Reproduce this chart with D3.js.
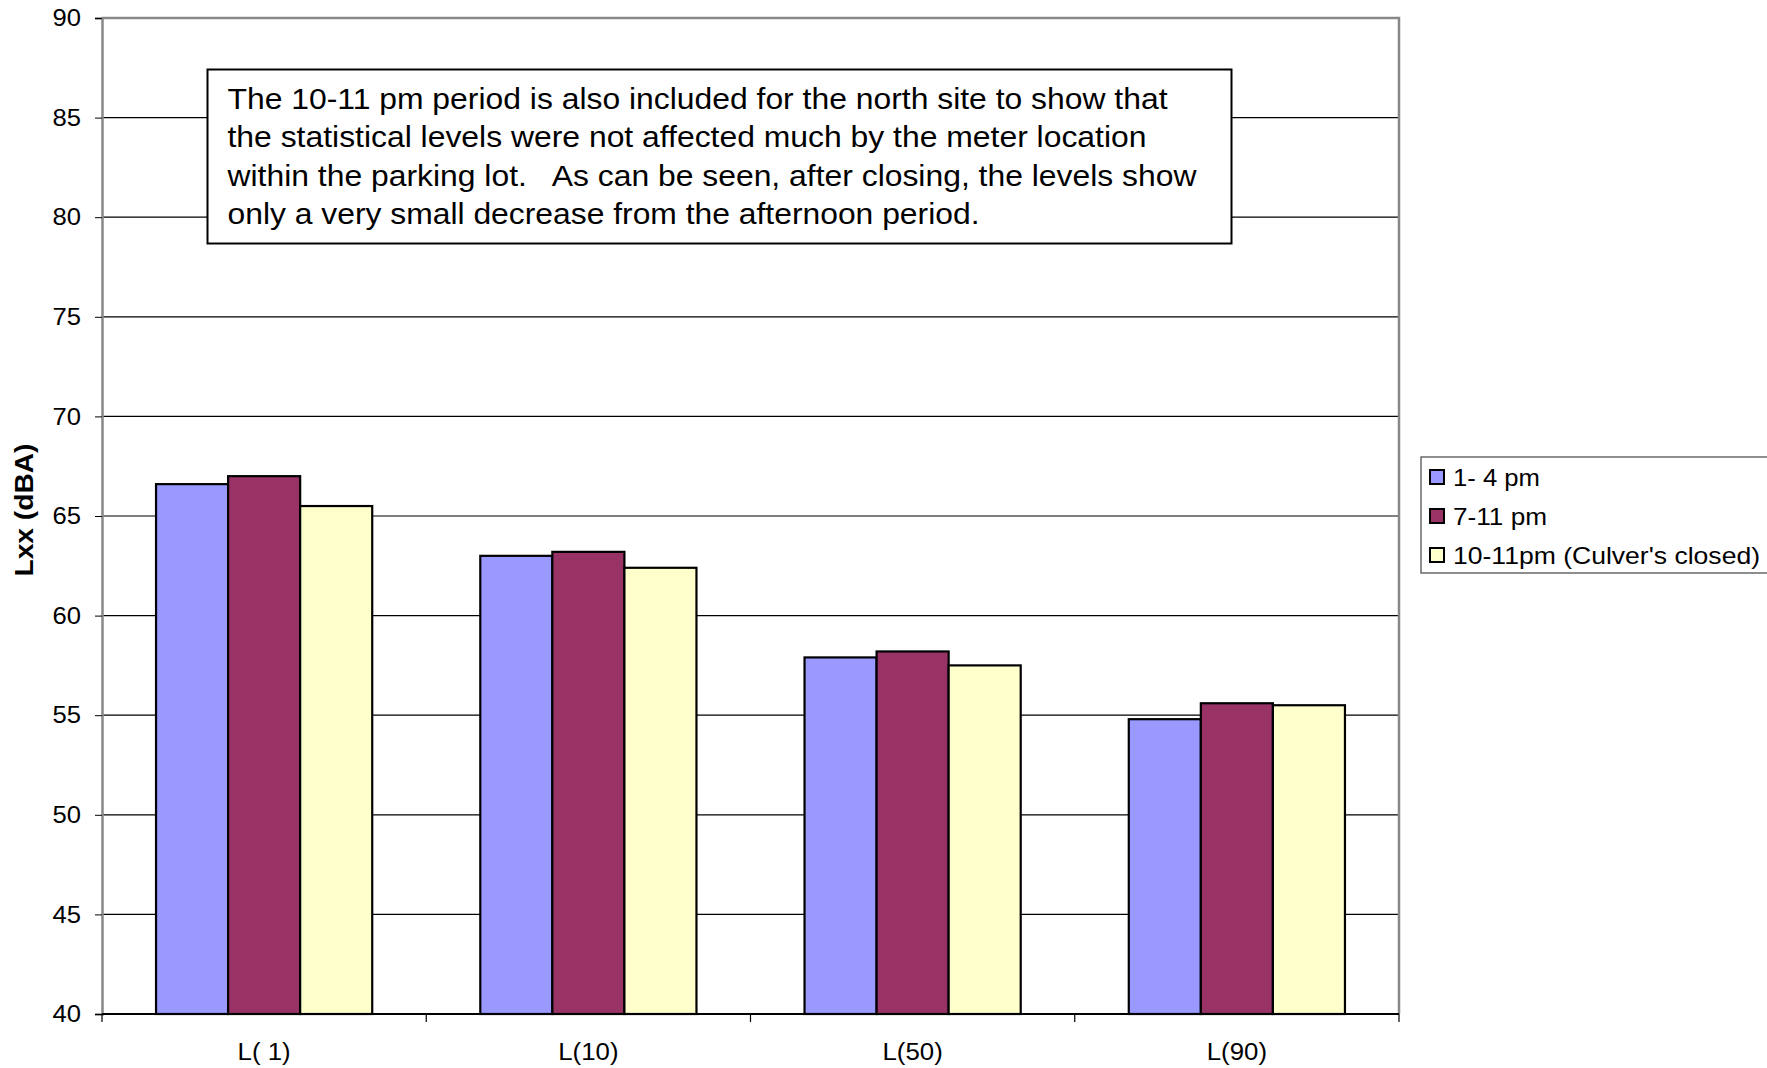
<!DOCTYPE html>
<html>
<head>
<meta charset="utf-8">
<script src="https://cdn.jsdelivr.net/npm/d3@7"></script>
<style>
  html, body { margin: 0; padding: 0; background: #fff; }
  svg { display: block; font-family: "Liberation Sans", Arial, sans-serif; }
</style>
</head>
<body>
<svg id="chart" width="1767" height="1068"></svg>
<script>
// Statistical noise levels per metric and time period
const categories = ["L( 1)", "L(10)", "L(50)", "L(90)"];
const seriesNames = ["1- 4 pm", "7-11 pm", "10-11pm (Culver's closed)"];
const afternoon = [66.6, 63.0, 57.9, 54.8];
const evening = [67.0, 63.2, 58.2, 55.6];
const lateNight = [65.5, 62.4, 57.5, 55.5];
const yTicks = [40, 45, 50, 55, 60, 65, 70, 75, 80, 85, 90];
const noteLines = [
  "The 10-11 pm period is also included for the north site to show that",
  "the statistical levels were not affected much by the meter location",
  "within the parking lot.   As can be seen, after closing, the levels show",
  "only a very small decrease from the afternoon period."
];
const yTitle = "Lxx (dBA)";

const colors = ["#9999FF", "#993366", "#FFFFCC"];
const seriesValues = [afternoon, evening, lateNight];

// Text is drawn slightly wide, as in the original spreadsheet chart
const stretch = 1.075;
const noteWidths = [940, 919, 969, 752];
const legendWidths = [87, 94, 307];

const svg = d3.select("#chart");
const plot = { left: 102, right: 1399, top: 18, bottom: 1014 };

const x = d3.scaleBand()
  .domain(categories)
  .range([plot.left, plot.right])
  .paddingInner(0.3333)
  .paddingOuter(0.16667);

const xSub = d3.scaleBand()
  .domain(d3.range(seriesNames.length))
  .range([0, x.bandwidth()]);

const y = d3.scaleLinear().domain([40, 90]).range([plot.bottom, plot.top]);

// Horizontal gridlines
svg.append("g")
  .selectAll("line")
  .data(yTicks.filter(t => t > 40 && t < 90))
  .join("line")
  .attr("x1", plot.left).attr("x2", plot.right)
  .attr("y1", d => y(d)).attr("y2", d => y(d))
  .attr("stroke", "#000").attr("stroke-width", 1.2);

// Plot frame (top and right)
svg.append("path")
  .attr("d", `M${plot.left},${plot.top}H${plot.right}V${plot.bottom}`)
  .attr("fill", "none").attr("stroke", "#888").attr("stroke-width", 2.5);

// Bars
const groups = svg.append("g")
  .selectAll("g")
  .data(categories)
  .join("g")
  .attr("transform", d => `translate(${x(d)},0)`);

groups.selectAll("rect")
  .data((d, i) => seriesValues.map((vals, s) => ({ s, v: vals[i] })))
  .join("rect")
  .attr("x", d => xSub(d.s))
  .attr("width", xSub.bandwidth())
  .attr("y", d => y(d.v))
  .attr("height", d => y(40) - y(d.v))
  .attr("fill", d => colors[d.s])
  .attr("stroke", "#000").attr("stroke-width", 2.2);

// Y axis
const yAxis = svg.append("g")
  .attr("transform", `translate(${plot.left},0)`)
  .call(d3.axisLeft(y).tickValues(yTicks).tickSize(7).tickPadding(14).tickFormat(d3.format("d")));
yAxis.select(".domain").attr("stroke", "#888").attr("stroke-width", 2.5);
yAxis.selectAll(".tick line").attr("stroke", "#000");
yAxis.selectAll("text")
  .attr("font-size", 24).attr("fill", "#000")
  .attr("font-family", "Liberation Sans, Arial, sans-serif")
  .attr("textLength", 28.5)
  .attr("lengthAdjust", "spacingAndGlyphs");

// X axis with ticks at category boundaries
const xAxis = svg.append("g")
  .attr("transform", `translate(0,${plot.bottom})`);
xAxis.append("line")
  .attr("x1", plot.left).attr("x2", plot.right)
  .attr("stroke", "#000").attr("stroke-width", 2);
const step = x.step();
xAxis.selectAll("line.tk")
  .data(d3.range(categories.length + 1))
  .join("line").attr("class", "tk")
  .attr("x1", i => plot.left + i * step).attr("x2", i => plot.left + i * step)
  .attr("y1", 0).attr("y2", 8)
  .attr("stroke", "#000").attr("stroke-width", 1.2);
xAxis.selectAll("text")
  .data(categories)
  .join("text")
  .attr("transform", d => `translate(${x(d) + x.bandwidth() / 2},46) scale(${stretch},1)`)
  .attr("text-anchor", "middle")
  .attr("font-size", 24)
  .text(d => d);

// Y axis title
svg.append("text")
  .attr("transform", `translate(33,510) rotate(-90)`)
  .attr("text-anchor", "middle")
  .attr("font-size", 25)
  .attr("font-weight", "bold")
  .attr("textLength", 133)
  .attr("lengthAdjust", "spacingAndGlyphs")
  .text(yTitle);

// Note box
const note = svg.append("g");
note.append("rect")
  .attr("x", 207.5).attr("y", 69.5)
  .attr("width", 1024).attr("height", 174)
  .attr("fill", "#fff").attr("stroke", "#000").attr("stroke-width", 2);
note.selectAll("text")
  .data(noteLines)
  .join("text")
  .attr("x", 227.5)
  .attr("y", (d, i) => 109 + i * 38.3)
  .attr("font-size", 29)
  .attr("textLength", (d, i) => noteWidths[i])
  .attr("lengthAdjust", "spacingAndGlyphs")
  .style("white-space", "pre")
  .text(d => d);

// Legend
const legend = svg.append("g");
legend.append("rect")
  .attr("x", 1421).attr("y", 457)
  .attr("width", 400).attr("height", 116)
  .attr("fill", "#fff").attr("stroke", "#444").attr("stroke-width", 1.2);
const items = legend.selectAll("g.item")
  .data(seriesNames)
  .join("g").attr("class", "item")
  .attr("transform", (d, i) => `translate(0,${470 + i * 39})`);
items.append("rect")
  .attr("x", 1430).attr("y", 0)
  .attr("width", 14).attr("height", 14)
  .attr("fill", (d, i) => colors[i])
  .attr("stroke", "#000").attr("stroke-width", 2);
items.append("text")
  .attr("x", 1453).attr("y", 15.5)
  .attr("font-size", 24)
  .attr("textLength", (d, i) => legendWidths[i])
  .attr("lengthAdjust", "spacingAndGlyphs")
  .style("white-space", "pre")
  .text(d => d);
</script>
</body>
</html>
